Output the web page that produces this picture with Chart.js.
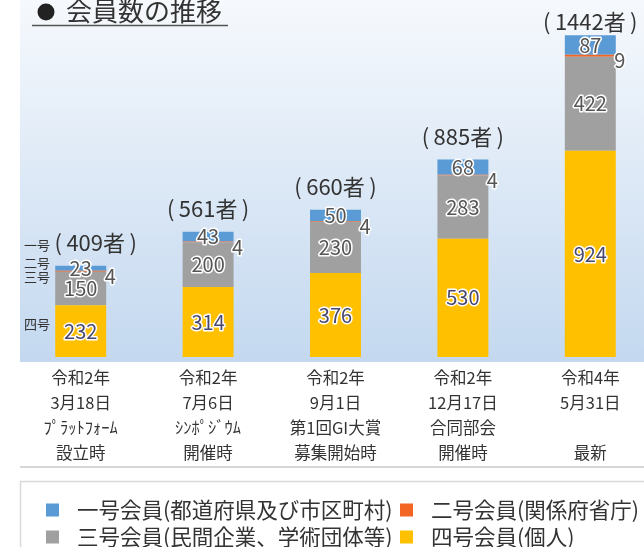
<!DOCTYPE html>
<html>
<head>
<meta charset="utf-8">
<script src="https://cdn.jsdelivr.net/npm/chart.js@4"></script>
<style>
  html, body { margin: 0; padding: 0; background: #fff; overflow: hidden; }
  #wrap { width: 660px; height: 547px; }
</style>
</head>
<body>
<div id="wrap"><canvas id="memberChart" width="660" height="547"></canvas></div>
<script>
// 会員数の推移
const categories = [
    ["令和2年", "3月18日", "ﾌﾟﾗｯﾄﾌｫｰﾑ", "設立時"],
    ["令和2年", "7月6日", "ｼﾝﾎﾟｼﾞｳﾑ", "開催時"],
    ["令和2年", "9月1日", "第1回GI大賞", "募集開始時"],
    ["令和2年", "12月17日", "合同部会", "開催時"],
    ["令和4年", "5月31日", "", "最新"],
];
const ichigo = [23, 43, 50, 68, 87];
const nigo = [4, 4, 4, 4, 9];
const sango = [150, 200, 230, 283, 422];
const yongo = [232, 314, 376, 530, 924];
const totals = [409, 561, 660, 885, 1442];

const seriesNames = [
    "一号会員(都道府県及び市区町村)",
    "二号会員(関係府省庁)",
    "三号会員(民間企業、学術団体等)",
    "四号会員(個人)",
];
const sideNames = ["一号", "二号", "三号", "四号"];

const FONT = "'Noto Sans CJK JP', 'Noto Sans', sans-serif";
const colors = ["#5b9bd5", "#f26522", "#a0a0a0", "#ffc000"];

function outlined(ctx, text, x, y, fill) {
    ctx.lineJoin = "round";
    ctx.lineWidth = 3;
    ctx.strokeStyle = "#fff";
    ctx.strokeText(text, x, y);
    ctx.fillStyle = fill;
    ctx.fillText(text, x, y);
}

const decor = {
    id: "decor",
    beforeDraw(chart) {
        const ctx = chart.ctx;
        ctx.save();
        ctx.fillStyle = "#fff";
        ctx.fillRect(0, 0, chart.width, chart.height);
        const g = ctx.createLinearGradient(0, 0, 0, 362);
        g.addColorStop(0, "#f6f9fd");
        g.addColorStop(1, "#c3d8ef");
        ctx.fillStyle = g;
        ctx.fillRect(20, 0, chart.width - 20, 362);
        ctx.restore();
    },
    afterDatasetsDraw(chart) {
        const ctx = chart.ctx;
        // datasets: 0=四号, 1=三号, 2=二号, 3=一号
        const m4 = chart.getDatasetMeta(0).data;
        const m3 = chart.getDatasetMeta(1).data;
        const m2 = chart.getDatasetMeta(2).data;
        const m1 = chart.getDatasetMeta(3).data;
        ctx.save();
        ctx.textAlign = "center";
        ctx.textBaseline = "middle";
        ctx.font = "20px " + FONT;
        for (let i = 0; i < categories.length; i++) {
            const b4 = m4[i], b3 = m3[i], b2 = m2[i], b1 = m1[i];
            outlined(ctx, String(yongo[i]), b4.x, (b4.y + b4.base) / 2, "#4b4870");
            outlined(ctx, String(sango[i]), b3.x, (b3.y + b3.base) / 2, "#555");
            outlined(ctx, String(ichigo[i]), b1.x, (b1.y + b1.base) / 2, "#555");
            outlined(ctx, String(nigo[i]), b2.x + b2.width / 2 + 4, b2.y + 6, "#555");
        }
        // totals
        ctx.font = "22px " + FONT;
        ctx.fillStyle = "#333";
        for (let i = 0; i < categories.length; i++) {
            const top = m1[i].y;
            const x = m1[i].x + (i === 0 ? 15 : 0);
            ctx.fillText("(\u2009" + totals[i] + "者\u2009)", x, Math.max(top - 23, 22));
        }
        // side names next to first bar
        ctx.font = "13px " + FONT;
        ctx.fillStyle = "#333";
        const grayTop = m3[0].y;
        const ys = [grayTop - 27, grayTop - 9, grayTop + 5, (m4[0].y + m4[0].base) / 2 - 7];
        sideNames.forEach((t, k) => ctx.fillText(t, 37, ys[k]));
        ctx.restore();
    },
    afterDraw(chart) {
        const ctx = chart.ctx;
        ctx.save();
        // title
        ctx.fillStyle = "#222";
        ctx.beginPath();
        ctx.arc(46, 12, 8.5, 0, Math.PI * 2);
        ctx.fill();
        ctx.font = "26px " + FONT;
        ctx.textBaseline = "middle";
        ctx.textAlign = "left";
        ctx.fillStyle = "#333";
        ctx.fillText("会員数の推移", 66, 11);
        ctx.strokeStyle = "#555";
        ctx.lineWidth = 1.5;
        ctx.beginPath();
        ctx.moveTo(32, 25.5);
        ctx.lineTo(228, 25.5);
        ctx.stroke();
        // separator
        ctx.strokeStyle = "#d6d6d6";
        ctx.lineWidth = 2;
        ctx.beginPath();
        ctx.moveTo(20, 467);
        ctx.lineTo(chart.width, 467);
        ctx.stroke();
        // legend box
        ctx.strokeStyle = "#d9d9d9";
        ctx.lineWidth = 1.5;
        ctx.strokeRect(20.5, 481.5, chart.width, 100);
        ctx.font = "21.5px " + FONT;
        const cols = [46, 400];
        const rows = [510, 537];
        seriesNames.forEach((name, k) => {
            const x = cols[k % 2], y = rows[Math.floor(k / 2)];
            ctx.fillStyle = colors[k];
            ctx.fillRect(x, y - 6.5, 13, 13);
            ctx.fillStyle = "#333";
            ctx.fillText(name, x + 31, y);
        });
        ctx.restore();
    },
};

const ctx = document.querySelector("#memberChart").getContext("2d");

const memberChart = new Chart(ctx, {
    type: "bar",
    data: {
        labels: categories,
        datasets: [
            { label: seriesNames[3], data: yongo, backgroundColor: colors[3] },
            { label: seriesNames[2], data: sango, backgroundColor: colors[2] },
            { label: seriesNames[1], data: nigo, backgroundColor: colors[1] },
            { label: seriesNames[0], data: ichigo, backgroundColor: colors[0] },
        ],
    },
    options: {
        responsive: false,
        animation: false,
        layout: { padding: { left: 17, right: 6, top: 0, bottom: 0 } },
        datasets: {
            bar: { categoryPercentage: 0.8, barPercentage: 0.5, borderWidth: 0 },
        },
        plugins: {
            legend: { display: false },
            tooltip: { enabled: false },
        },
        scales: {
            x: {
                stacked: true,
                grid: { display: false, drawTicks: false },
                border: { display: false },
                ticks: {
                    color: "#333",
                    padding: 8,
                    maxRotation: 0,
                    autoSkip: false,
                    font: { family: FONT, size: 16.5, lineHeight: "25px" },
                },
                afterFit(scale) {
                    scale.height = 190;
                },
            },
            y: {
                stacked: true,
                display: false,
                min: 0,
                max: 1600,
            },
        },
    },
    plugins: [decor],
});
</script>
</body>
</html>
